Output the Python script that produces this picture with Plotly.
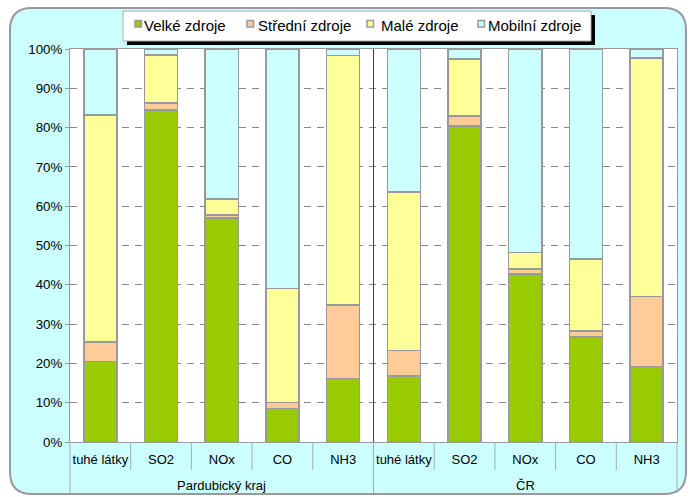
import plotly.graph_objects as go

group_names = ["Pardubický kraj", "ČR"]
pollutant_names = ["tuhé látky", "SO2", "NOx", "CO", "NH3"]
pollutants = pollutant_names * len(group_names)

velke = [20.5, 84.5, 57.0, 8.5, 16.2, 16.8, 80.4, 42.7, 26.7, 19.2]
stredni = [5.0, 1.7, 0.8, 1.5, 18.6, 6.5, 2.6, 1.3, 1.5, 17.8]
male = [57.7, 12.3, 4.0, 29.0, 63.6, 40.3, 14.5, 4.2, 18.4, 60.7]
mobilni = [16.8, 1.5, 38.2, 61.0, 1.6, 36.4, 2.5, 51.8, 53.4, 2.3]

series_names = ["Velké zdroje", "Střední zdroje", "Malé zdroje", "Mobilní zdroje"]
series_values = [velke, stredni, male, mobilni]
series_colors = ["#99CC00", "#FFCC99", "#FFFF99", "#CCFFFF"]

# layout (pixel) geometry
W, H = 692, 497
L, R, T, B = 70, 15, 49, 55
pw, ph = W - L - R, H - T - B
FONT = "Liberation Sans, Arial, sans-serif"

def px(x):
    return (x - L) / pw

def py(y):
    return (H - B - y) / ph

n = len(pollutants)
xpos = list(range(n))

fig = go.Figure()
for name, vals, col in zip(series_names, series_values, series_colors):
    fig.add_trace(go.Bar(
        x=xpos, y=vals, name=name, showlegend=False,
        marker=dict(color=col, line=dict(color="#999999", width=1.5)),
    ))

shapes = []
annotations = []
# rounded cyan background frame
r = 22
x0, x1, y0, y1 = 10, 686, 8, 494
def P(x, y):
    return f"{px(x):.5f},{py(y):.5f}"
path = (f"M {P(x0+r, y0)} L {P(x1-r, y0)} Q {P(x1, y0)} {P(x1, y0+r)} "
        f"L {P(x1, y1-r)} Q {P(x1, y1)} {P(x1-r, y1)} L {P(x0+r, y1)} "
        f"Q {P(x0, y1)} {P(x0, y1-r)} L {P(x0, y0+r)} Q {P(x0, y0)} {P(x0+r, y0)} Z")
shapes.append(dict(type="path", xref="paper", yref="paper", path=path,
                   fillcolor="#CCFFFF", line=dict(color="#999999", width=2), layer="below"))
shapes.append(dict(type="rect", xref="paper", yref="paper", x0=0, x1=1, y0=0, y1=1,
                   fillcolor="white", line=dict(width=0), layer="below"))

# separators
ng = len(group_names)
per = len(pollutant_names)
for i in range(0, n + 1):
    xp = i / n
    if i % per == 0:
        if 0 < i < n:
            shapes.append(dict(type="line", xref="paper", yref="paper", x0=xp, x1=xp,
                               y0=0, y1=1, line=dict(color="#444444", width=1)))
        shapes.append(dict(type="line", xref="paper", yref="paper", x0=xp, x1=xp,
                           y0=py(y1 - 1), y1=0, line=dict(color="#AAAAAA", width=1)))
    else:
        shapes.append(dict(type="line", xref="paper", yref="paper", x0=xp, x1=xp,
                           y0=py(470), y1=0, line=dict(color="#AAAAAA", width=1)))

# group labels
for g, gname in enumerate(group_names):
    annotations.append(dict(xref="paper", yref="paper", x=(g + 0.5) / ng, y=py(486),
                            text=gname, showarrow=False, xanchor="center", yanchor="middle",
                            font=dict(family=FONT, size=13, color="black")))

# manual legend
lg_box = (123, 591, 11, 41)
shapes.append(dict(type="rect", xref="paper", yref="paper",
                   x0=px(lg_box[0] + 4), x1=px(lg_box[1] + 4), y0=py(lg_box[3] + 4), y1=py(lg_box[2] + 4),
                   fillcolor="black", line=dict(width=0), layer="above"))
shapes.append(dict(type="rect", xref="paper", yref="paper",
                   x0=px(lg_box[0]), x1=px(lg_box[1]), y0=py(lg_box[3]), y1=py(lg_box[2]),
                   fillcolor="white", line=dict(color="#AAAAAA", width=1), layer="above"))
sq_x = [135, 247, 367, 478]
tx_x = [141.5, 255.5, 378.5, 486]
for name, col, sx, tx in zip(series_names, series_colors, sq_x, tx_x):
    shapes.append(dict(type="rect", xref="paper", yref="paper",
                       x0=px(sx), x1=px(sx + 6.5), y0=py(27), y1=py(20.5),
                       fillcolor=col, line=dict(color="#999999", width=1.5), layer="above"))
    annotations.append(dict(xref="paper", yref="paper", x=px(tx), y=py(25.5), text=name,
                            showarrow=False, xanchor="left", yanchor="middle",
                            font=dict(family=FONT, size=15, color="black")))

fig.update_layout(
    width=W, height=H,
    margin=dict(l=L, r=R, t=T, b=B, autoexpand=False),
    paper_bgcolor="white", plot_bgcolor="rgba(0,0,0,0)",
    barmode="stack", bargap=0.455,
    font=dict(family=FONT, size=13, color="black"),
    shapes=shapes, annotations=annotations,
    showlegend=False,
)
fig.update_yaxes(range=[0, 100], dtick=10, ticksuffix="%", showgrid=True,
                 gridcolor="#888888", griddash="7px,6px", gridwidth=1,
                 showline=True, linecolor="#999999", mirror=True,
                 ticks="outside", ticklen=4, tickcolor="#999999", zeroline=False,
                 tickfont=dict(size=13.3), automargin=False)
fig.update_xaxes(range=[-0.5, n - 0.5], tickmode="array", tickvals=xpos, ticktext=pollutants,
                 showline=True, linecolor="#999999", mirror=True, ticks="",
                 ticklabelstandoff=5,
                 showgrid=False, tickfont=dict(size=13), automargin=False)

fig.write_html("out.html", config={"displayModeBar": False},
               post_script="document.body.style.margin='0';document.body.style.overflow='hidden';")
